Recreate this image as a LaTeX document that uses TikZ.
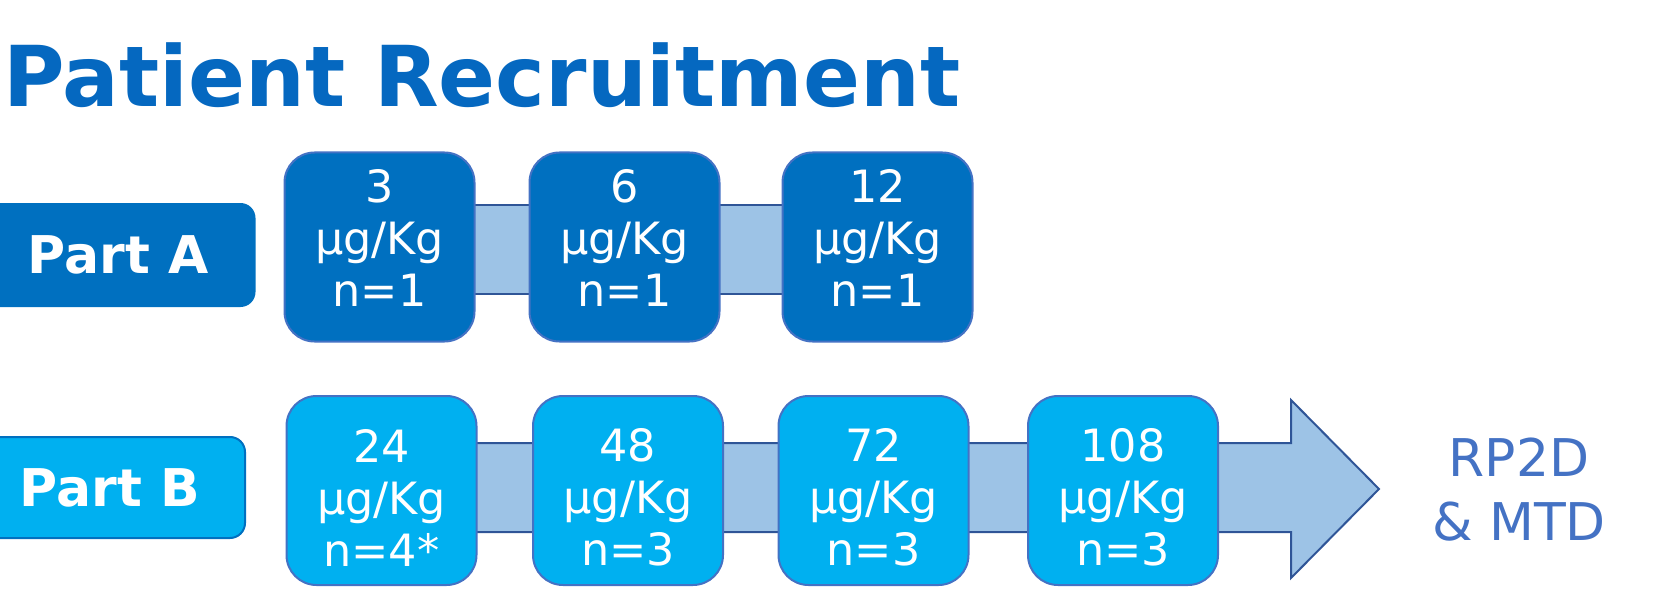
\documentclass[tikz,border=0pt]{standalone}
\usepackage{fontspec}
\setmainfont{DejaVu Sans}
\usetikzlibrary{backgrounds}
\definecolor{titleblue}{HTML}{0568C0}
\definecolor{darkfill}{HTML}{0070C0}
\definecolor{lightfill}{HTML}{00B0F0}
\definecolor{boxedge}{HTML}{4472C4}
\definecolor{bandfill}{HTML}{9DC3E6}
\definecolor{bandedge}{HTML}{2F5597}
\definecolor{rptext}{HTML}{4472C4}
\begin{document}
\begin{tikzpicture}[x=1pt,y=-1pt,
  dosebox/.style={rectangle,rounded corners=30pt,minimum width=190pt,minimum height=189pt,line width=2pt,draw=boxedge,inner sep=0pt},
  doseA/.style={dosebox,fill=darkfill},
  doseB/.style={dosebox,fill=lightfill},
  dosetext/.style={text=white,align=center,font=\fontsize{44.5}{52}\selectfont,inner sep=0pt},
  partbox/.style={rectangle,rounded corners=15pt,inner sep=0pt,text=white,font=\fontsize{52}{60}\selectfont\bfseries},
  band/.style={fill=bandfill,draw=bandedge,line width=2pt,line join=miter}
]
\useasboundingbox (0,0) rectangle (1666,607);

\node[anchor=base west,inner sep=0pt,text=titleblue,font=\fontsize{84}{90}\selectfont\bfseries] (title) at (3,107) {Patient Recruitment};

\node[partbox,fill=darkfill,minimum width=275pt,minimum height=104pt] (partA) at (118,255) {Part A};
\node[partbox,fill=lightfill,draw=darkfill,line width=2pt,minimum width=270pt,minimum height=101pt] (partB) at (110,487.5) {Part B};

% Row A
\node[doseA] (a1) at (379.5,247) {};
\node[doseA] (a2) at (624.5,247) {};
\node[doseA] (a3) at (877.5,247) {};
\begin{scope}[on background layer]
\filldraw[band] ([yshift=42pt]a1.center) rectangle ([yshift=-47pt]a3.center);
\end{scope}
\node[dosetext] (ta1) at ([yshift=9pt]a1.center) {3\\µg/Kg\\n=1};
\node[dosetext] (ta2) at ([yshift=9pt]a2.center) {6\\µg/Kg\\n=1};
\node[dosetext] (ta3) at ([yshift=9pt]a3.center) {12\\µg/Kg\\n=1};

% Row B
\node[doseB] (b1) at (381.5,490.5) {};
\node[doseB] (b2) at (628,490.5) {};
\node[doseB] (b3) at (873.5,490.5) {};
\node[doseB] (b4) at (1123,490.5) {};
\coordinate (tip) at (1379,489);
\begin{scope}[on background layer]
\filldraw[band] ([yshift=47.5pt]b1.center) -- (1291,443) -- (1291,400) -- (tip) -- (1291,578) -- (1291,532) -- ([yshift=-41.5pt]b1.center) -- cycle;
\end{scope}
\node[dosetext] (tb1) at ([yshift=-7pt]b1.center) {24\\µg/Kg\\n=4*};
\node[dosetext] (tb2) at ([yshift=-7pt]b2.center) {48\\µg/Kg\\n=3};
\node[dosetext] (tb3) at ([yshift=-7pt]b3.center) {72\\µg/Kg\\n=3};
\node[dosetext] (tb4) at ([yshift=-7pt]b4.center) {108\\µg/Kg\\n=3};

\node[text=rptext,align=center,inner sep=0pt,font=\fontsize{52}{64}\selectfont] (rp) at (1519,490) {RP2D\\\& MTD};
\end{tikzpicture}
\end{document}
